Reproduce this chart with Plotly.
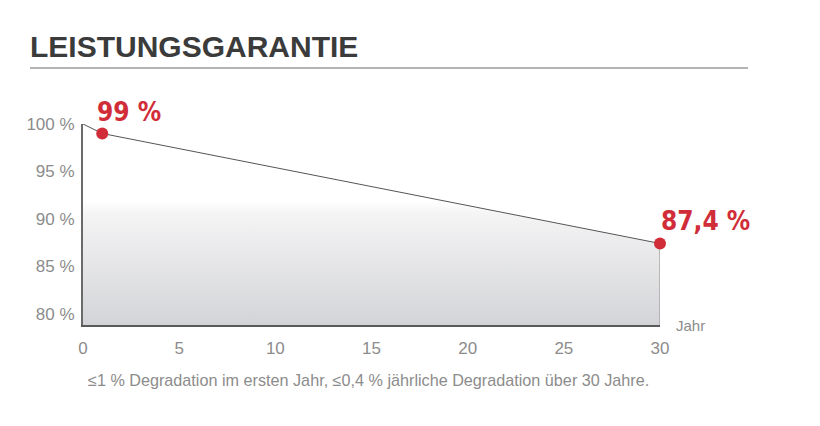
import plotly.graph_objects as go

# Data
years = [0, 1, 30]
performance = [100, 99, 87.4]
marked_years = [1, 30]
marked_values = [99, 87.4]
marked_labels = ["99 %", "87,4 %"]
y_tickvals = [80, 85, 90, 95, 100]
y_ticktext = ["80 %", "85 %", "90 %", "95 %", "100 %"]
x_tickvals = [0, 5, 10, 15, 20, 25, 30]
title_text = "LEISTUNGSGARANTIE"
footnote = "≤1 % Degradation im ersten Jahr, ≤0,4 % jährliche Degradation über 30 Jahre."
x_unit = "Jahr"

Y_MIN, Y_MAX = 78.8, 100
RED = "#d12d38"
GRAY_TXT = "#8c8c8c"

fig = go.Figure()

# Gradient-filled area under the guarantee line
poly_x = [years[0]] + years + [years[-1]]
poly_y = [Y_MIN] + performance + [Y_MIN]
fig.add_trace(go.Scatter(
    x=poly_x, y=poly_y, mode="lines", fill="toself",
    line=dict(width=0, color="rgba(0,0,0,0)"),
    fillgradient=dict(type="vertical", start=Y_MIN, stop=Y_MAX,
                      colorscale=[[0, "#d3d4d7"], [0.55, "#f4f4f5"], [0.62, "#ffffff"], [1, "#ffffff"]]),
    hoverinfo="skip", showlegend=False))

# right edge
fig.add_trace(go.Scatter(x=[years[-1], years[-1]], y=[performance[-1], Y_MIN], mode="lines",
                         line=dict(color="#9a9a9a", width=1.2), hoverinfo="skip", showlegend=False))
# top line
fig.add_trace(go.Scatter(x=years, y=performance, mode="lines",
                         line=dict(color="#555555", width=1), hoverinfo="skip", showlegend=False,
                         cliponaxis=False))
# markers
fig.add_trace(go.Scatter(x=marked_years, y=marked_values, mode="markers",
                         marker=dict(color=RED, size=12), cliponaxis=False,
                         hoverinfo="skip", showlegend=False))

label_font = dict(family="DejaVu Sans Condensed, Liberation Sans Narrow, DejaVu Sans, sans-serif",
                  size=26, color=RED, weight="bold")
fig.add_annotation(x=marked_years[0], y=marked_values[0], text=marked_labels[0],
                   showarrow=False, xanchor="left", yanchor="bottom", xshift=-7, yshift=4,
                   font=label_font)
fig.add_annotation(x=marked_years[1], y=marked_values[1], text=marked_labels[1],
                   showarrow=False, xanchor="left", yanchor="bottom", xshift=-1, yshift=5,
                   font=label_font)

fig.update_layout(
    width=820, height=426,
    margin=dict(l=83, r=160, t=124, b=101),
    paper_bgcolor="white", plot_bgcolor="rgba(0,0,0,0)",
    font=dict(family="Liberation Sans, Arial, sans-serif", color=GRAY_TXT),
    xaxis=dict(range=[0, 30], tickvals=x_tickvals, showgrid=False, zeroline=False,
               showline=True, linecolor="#5a5a5a", linewidth=2, ticks="",
               tickfont=dict(size=17, color=GRAY_TXT), ticklabelstandoff=7, fixedrange=True),
    yaxis=dict(range=[Y_MIN, Y_MAX], tickvals=y_tickvals, ticktext=y_ticktext,
               showgrid=False, zeroline=False, showline=True, linecolor="#6a6a6a", linewidth=2,
               ticks="", tickfont=dict(size=17, color=GRAY_TXT), ticklabelstandoff=3,
               fixedrange=True),
)

# Title
fig.add_annotation(xref="paper", yref="paper", x=-55/577, y=1 + (124 - 46) / 201,
                   text="<b>" + title_text + "</b>", showarrow=False, xanchor="left", yanchor="middle",
                   font=dict(family="Liberation Sans, Arial, sans-serif", size=30, color="#3b3b3b"))
# Title underline
fig.add_shape(type="line", xref="paper", yref="paper",
              x0=-53/577, x1=(748 - 83) / 577, y0=1 + (124 - 68) / 201, y1=1 + (124 - 68) / 201,
              line=dict(color="#b4b4b4", width=2))
# Unit label
fig.add_annotation(xref="paper", yref="paper", x=(674 - 83) / 577, y=0,
                   text=x_unit, showarrow=False, xanchor="left", yanchor="middle",
                   font=dict(size=15, color=GRAY_TXT))
# Footnote
fig.add_annotation(xref="paper", yref="paper", x=(86 - 83) / 577, y=-(380 - 325) / 201,
                   text=footnote, showarrow=False, xanchor="left", yanchor="middle",
                   font=dict(size=16.2, color=GRAY_TXT))

fig.write_html("out.html")
